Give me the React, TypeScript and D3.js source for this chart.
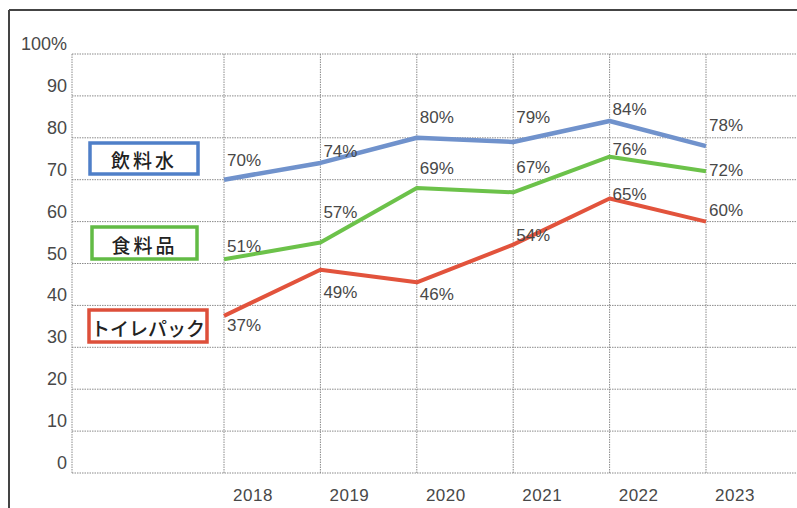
import React from 'react';
import * as d3 from 'd3';

const years = ['2018', '2019', '2020', '2021', '2022', '2023'];
const yTicks = [0, 10, 20, 30, 40, 50, 60, 70, 80, 90, 100];
const waterValues = [70, 74, 80, 79, 84, 78];
const foodValues = [51, 55, 68, 67, 75.5, 72];
const toiletValues = [37.5, 48.5, 45.5, 54.5, 65.5, 60];
const waterLabels = ['70%', '74%', '80%', '79%', '84%', '78%'];
const foodLabels = ['51%', '57%', '69%', '67%', '76%', '72%'];
const toiletLabels = ['37%', '49%', '46%', '54%', '65%', '60%'];
const seriesNames = ['飲料水', '食料品', 'トイレパック'];

const W = 797;
const H = 508;
const plotLeft = 72;
const plotRight = 797;

const x = d3.scaleLinear().domain([0, 5]).range([224, 706]);
const y = d3.scaleLinear().domain([0, 100]).range([473, 54]);
const line = d3.line<number>().x((_, i) => x(i)).y((d) => y(d));

const numFont = '"Liberation Sans", Arial, sans-serif';
const jpFont = '"Noto Sans CJK JP", "Noto Sans", sans-serif';

const series = [
  { values: waterValues, labels: waterLabels, color: '#7092cc', width: 4.5, dy: [-19, -11, -20, -24, -12, -21] },
  { values: foodValues, labels: foodLabels, color: '#6cc24a', width: 4, dy: [-13, -30, -20, -25, -7, -1] },
  { values: toiletValues, labels: toiletLabels, color: '#e2533c', width: 4, dy: [10, 23, 12, -9, -4, -11] },
];

const legendBoxes = [
  { x: 90, y: 143, w: 108, h: 31, color: '#4f7fc8', ls: 3 },
  { x: 92, y: 227, w: 105, h: 32, color: '#62bb45', ls: 3 },
  { x: 89, y: 310, w: 118, h: 32, color: '#dd4f3a', ls: 0 },
];

export default function App() {
  const gridColor = '#8a8a8a';
  const textColor = '#484848';
  return (
    <svg width={W} height={H} style={{ position: 'absolute', left: 0, top: 0, background: '#fff' }}>
      <rect x={0} y={0} width={W} height={H} fill="#fff" />
      {/* outer frame */}
      <line x1={9} y1={10} x2={W} y2={10} stroke="#444" strokeWidth={2} />
      <line x1={9} y1={10} x2={9} y2={H} stroke="#444" strokeWidth={2} />

      {/* horizontal grid */}
      {yTicks.map((t) => (
        <line key={'h' + t} x1={plotLeft} x2={plotRight} y1={y(t)} y2={y(t)} stroke={gridColor} strokeWidth={1} strokeDasharray="1.5,1" />
      ))}
      {/* vertical grid */}
      <line x1={plotLeft} x2={plotLeft} y1={y(100)} y2={y(0)} stroke={gridColor} strokeWidth={1} strokeDasharray="1.5,1" />
      {years.map((yr, i) => (
        <line key={'v' + yr} x1={x(i)} x2={x(i)} y1={y(100)} y2={y(0)} stroke={gridColor} strokeWidth={1} strokeDasharray="1.5,1" />
      ))}

      {/* y tick labels */}
      {yTicks.map((t) => (
        <text key={'yl' + t} x={67} y={y(t) - 10} textAnchor="end" dominantBaseline="central" fontFamily={numFont} fontSize={18} fill={textColor}>
          {t === 100 ? '100%' : String(t)}
        </text>
      ))}

      {/* x labels */}
      {years.map((yr, i) => (
        <text key={'xl' + yr} x={x(i) + 29} y={495} textAnchor="middle" dominantBaseline="central" fontFamily={numFont} fontSize={17} letterSpacing={0.5} fill={textColor}>
          {yr}
        </text>
      ))}

      {/* lines */}
      {series.map((s, si) => (
        <path key={'p' + si} d={line(s.values) || ''} fill="none" stroke={s.color} strokeWidth={s.width} strokeLinejoin="round" />
      ))}

      {/* data labels */}
      {series.map((s, si) =>
        s.labels.map((lab, i) => (
          <text key={'dl' + si + '-' + i} x={x(i) + 3} y={y(s.values[i]) + s.dy[i]} dominantBaseline="central" fontFamily={numFont} fontSize={17} fill={textColor}>
            {lab}
          </text>
        ))
      )}

      {/* legend boxes */}
      {legendBoxes.map((b, i) => (
        <g key={'lg' + i}>
          <rect x={b.x} y={b.y} width={b.w} height={b.h} fill="#fff" stroke={b.color} strokeWidth={3.5} />
          <text x={b.x + b.w / 2} y={b.y + b.h / 2 + 1} textAnchor="middle" dominantBaseline="central" fontFamily={jpFont} fontSize={19} fontWeight={500} letterSpacing={b.ls} fill="#222">
            {seriesNames[i]}
          </text>
        </g>
      ))}
    </svg>
  );
}
